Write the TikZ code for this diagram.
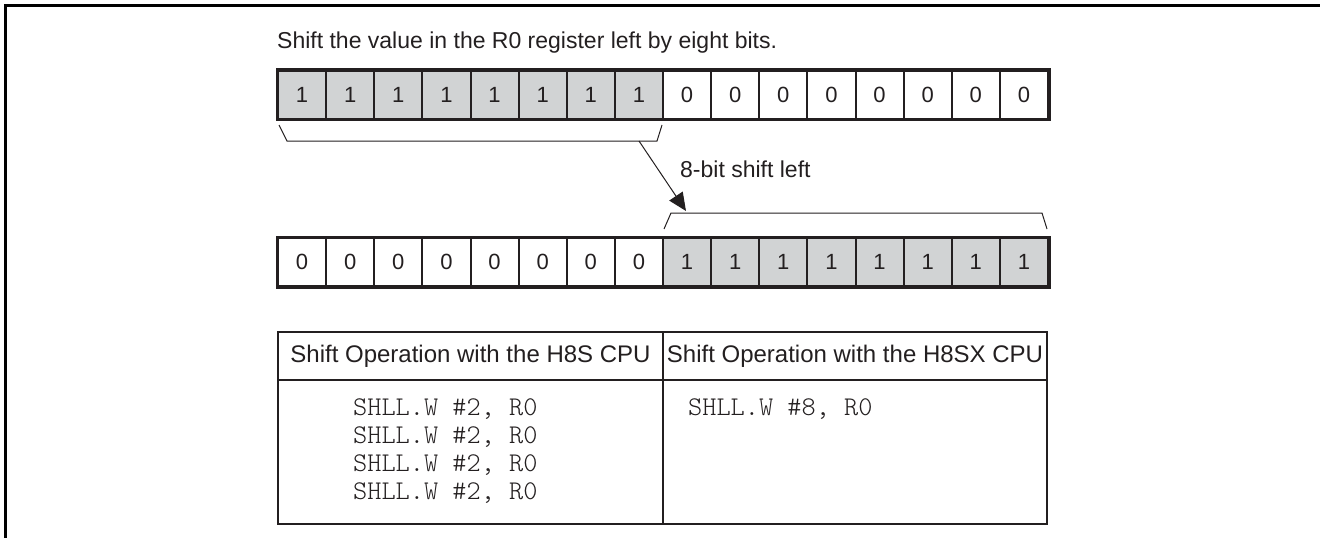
\documentclass[tikz,border=0pt]{standalone}
\usepackage{fontspec}
\setmainfont{Liberation Sans}
\newfontfamily\codefont{lmmonolt10-regular.otf}
\usetikzlibrary{arrows.meta}
\definecolor{ink}{HTML}{231F20}
\definecolor{shade}{HTML}{D1D3D4}
\begin{document}
\begin{tikzpicture}[x=1pt,y=-1pt,
  cell/.style={draw=ink, line width=2pt, minimum width=48.125pt, minimum height=48pt,
    inner sep=0pt, anchor=north west, text=ink, font=\fontsize{22}{22}\selectfont},
  onecell/.style={cell, fill=shade},
  zerocell/.style={cell, fill=white},
  regframe/.style={draw=ink, line width=3pt},
  bracket/.style={draw=ink, line width=1pt},
  txt/.style={text=ink, inner sep=0pt, font=\fontsize{23}{23}\selectfont},
  head/.style={text=ink, inner sep=0pt, font=\fontsize{24}{24}\selectfont},
  code/.style={text=ink, inner sep=0pt, anchor=base west, font=\codefont\fontsize{27}{27}\selectfont},
  tbl/.style={draw=ink, line width=1.4pt}]
\useasboundingbox (0,0) rectangle (1320,538);
% outer partial frame
\draw[line width=2.4pt, black] (5.5,538) -- (5.5,5.5) -- (1320,5.5);
% title
\node[txt, anchor=base west] (title) at (277,48) {Shift the value in the R0 register left by eight bits.};
% register 1
\foreach \i in {0,...,7} {\node[onecell] (a\i) at (277+\i*48.125,69.5) {1};}
\foreach \i in {8,...,15} {\node[zerocell] (a\i) at (277+\i*48.125,69.5) {0};}
\draw[regframe] (a0.north west) rectangle (a15.south east);
% register 2
\foreach \i in {0,...,7} {\node[zerocell] (b\i) at (277+\i*48.125,237) {0};}
\foreach \i in {8,...,15} {\node[onecell] (b\i) at (277+\i*48.125,237) {1};}
\draw[regframe] (b0.north west) rectangle (b15.south east);
% brackets
\coordinate (l1) at (279,125);
\coordinate (l2) at (287,141);
\coordinate (l3) at (657,141);
\coordinate (l4) at (662,125);
\draw[bracket] (l1) -- (l2) -- (l3) -- (l4);
\coordinate (r1) at (664,229);
\coordinate (r2) at (671,213);
\coordinate (r3) at (1042,213);
\coordinate (r4) at (1047,229);
\draw[bracket] (r1) -- (r2) -- (r3) -- (r4);
% arrow
\coordinate (as) at (639,141);
\coordinate (ae) at (686,211);
\draw[bracket, -{Triangle[length=18pt,width=16pt]}] (as) -- (ae);
\node[txt, anchor=west] (lbl) at (680,169) {8-bit shift left};
% table
\coordinate (t1) at (278,332);
\coordinate (t2) at (1047,524);
\draw[tbl] (t1) rectangle (t2);
\draw[tbl] (278,380) -- (1047,380);
\draw[tbl] (663,332) -- (663,524);
\node[head] (h1) at (470.5,356) {Shift Operation with the H8S CPU};
\node[head] (h2) at (855,356) {Shift Operation with the H8SX CPU};
\node[code] (c1) at (353,415) {SHLL.W \#2, R0};
\node[code] (c2) at (353,443) {SHLL.W \#2, R0};
\node[code] (c3) at (353,471) {SHLL.W \#2, R0};
\node[code] (c4) at (353,499) {SHLL.W \#2, R0};
\node[code] (c5) at (688,415) {SHLL.W \#8, R0};
\end{tikzpicture}
\end{document}
